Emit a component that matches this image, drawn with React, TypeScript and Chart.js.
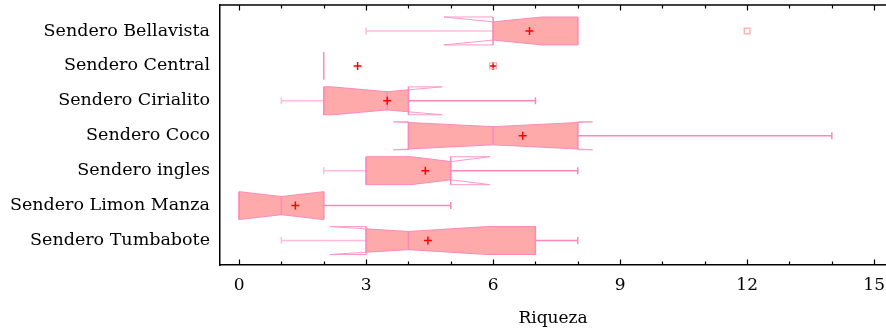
import React, { useEffect, useRef } from "react";
import { Chart, registerables } from "chart.js";

Chart.register(...registerables);

const categories = [
  "Sendero Bellavista",
  "Sendero Central",
  "Sendero Cirialito",
  "Sendero Coco",
  "Sendero ingles",
  "Sendero Limon Manza",
  "Sendero Tumbabote",
];
const whiskerMin = [3, 2, 1, 4, 2, 0, 1];
const q1 = [6, 2, 2, 4, 3, 0, 3];
const median = [6, 2, 3.5, 6, 5, 1, 4];
const q3 = [8, 2, 4, 8, 5, 2, 7];
const whiskerMax = [8, 2, 7, 14, 8, 5, 8];
const notchHalf = [1.16, 0, 1.3, 2.35, 0.93, 1.0, 1.86];
const means = [6.86, 2.8, 3.5, 6.7, 4.4, 1.33, 4.46];
const outlierCat = [0];
const outlierVal = [12];
const farOutlierCat = [1];
const farOutlierVal = [6];
const xTicks = [0, 1, 2, 3, 4, 5, 6, 7, 8, 9, 10, 11, 12, 13, 14, 15];

const FONT = "'DejaVu Serif', serif";
const FILL = "#FFAAAA";
const EDGE = "#FF88BB";
const EXT = "#FF99C8";
const LOW_WHISK = "#FFBBDD";

const boxPlugin = {
  id: "notchedBoxes",
  beforeDatasetsDraw(chart: any) {
    const { ctx, scales, chartArea } = chart;
    const xs = scales.x;
    const ys = scales.y;
    const unit = Math.abs(ys.getPixelForValue(1) - ys.getPixelForValue(0));
    const H = unit * 0.4;
    const h = unit * 0.26;
    ctx.save();
    categories.forEach((_, i) => {
      const cy = ys.getPixelForValue(i);
      const med = median[i];
      const n = notchHalf[i];
      const lo = med - n;
      const hi = med + n;
      const a = q1[i];
      const b = q3[i];
      const hw = (v: number) => {
        if (n <= 0) return H;
        const d = Math.abs(v - med);
        if (d >= n) return H;
        return h + ((H - h) * d) / n;
      };
      const px = (v: number) => xs.getPixelForValue(v);

      ctx.lineWidth = 1.5;
      if (whiskerMin[i] < a) {
        ctx.strokeStyle = LOW_WHISK;
        ctx.beginPath();
        ctx.moveTo(px(whiskerMin[i]), cy);
        ctx.lineTo(px(a), cy);
        ctx.moveTo(px(whiskerMin[i]), cy - 3.5);
        ctx.lineTo(px(whiskerMin[i]), cy + 3.5);
        ctx.stroke();
      }
      if (whiskerMax[i] > b) {
        ctx.strokeStyle = EDGE;
        ctx.beginPath();
        ctx.moveTo(px(b), cy);
        ctx.lineTo(px(whiskerMax[i]), cy);
        ctx.moveTo(px(whiskerMax[i]), cy - 3.5);
        ctx.lineTo(px(whiskerMax[i]), cy + 3.5);
        ctx.stroke();
      }

      if (b > a) {
        const pts: number[] = [a];
        if (n > 0 && lo > a && lo < med) pts.push(lo);
        if (med > a && med < b) pts.push(med);
        if (n > 0 && hi > med && hi < b) pts.push(hi);
        pts.push(b);
        ctx.beginPath();
        pts.forEach((v, k) => {
          if (k === 0) ctx.moveTo(px(v), cy - hw(v));
          else ctx.lineTo(px(v), cy - hw(v));
        });
        for (let k = pts.length - 1; k >= 0; k--) {
          ctx.lineTo(px(pts[k]), cy + hw(pts[k]));
        }
        ctx.closePath();
        ctx.fillStyle = FILL;
        ctx.fill();
        ctx.strokeStyle = EDGE;
        ctx.lineWidth = 1;
        ctx.stroke();
      }

      ctx.strokeStyle = EXT;
      ctx.lineWidth = 1;
      if (n > 0 && lo < a) {
        ctx.beginPath();
        ctx.moveTo(px(lo), cy - H);
        ctx.lineTo(px(a), cy - H);
        ctx.moveTo(px(lo), cy + H);
        ctx.lineTo(px(a), cy + H);
        ctx.moveTo(px(lo), cy - H);
        ctx.lineTo(px(a), cy - hw(a));
        ctx.moveTo(px(lo), cy + H);
        ctx.lineTo(px(a), cy + hw(a));
        ctx.stroke();
      }
      if (n > 0 && hi > b) {
        ctx.beginPath();
        ctx.moveTo(px(b), cy - H);
        ctx.lineTo(px(hi), cy - H);
        ctx.moveTo(px(b), cy + H);
        ctx.lineTo(px(hi), cy + H);
        ctx.moveTo(px(hi), cy - H);
        ctx.lineTo(px(b), cy - hw(b));
        ctx.moveTo(px(hi), cy + H);
        ctx.lineTo(px(b), cy + hw(b));
        ctx.stroke();
      }

      ctx.strokeStyle = EDGE;
      ctx.lineWidth = 1.5;
      ctx.beginPath();
      ctx.moveTo(px(a), cy - H);
      ctx.lineTo(px(a), cy + H);
      ctx.moveTo(px(b), cy - H);
      ctx.lineTo(px(b), cy + H);
      ctx.moveTo(px(med), cy - hw(med));
      ctx.lineTo(px(med), cy + hw(med));
      ctx.stroke();
    });

    ctx.strokeStyle = "#000";
    ctx.lineWidth = 1.5;
    ctx.beginPath();
    ctx.moveTo(chartArea.left, chartArea.top);
    ctx.lineTo(chartArea.right + 2, chartArea.top);
    ctx.stroke();
    ctx.lineWidth = 1.2;
    ctx.beginPath();
    xTicks.forEach((v) => {
      const x = Math.round(xs.getPixelForValue(v)) + 0.5;
      const len = v % 3 === 0 ? 5.5 : 3.5;
      ctx.moveTo(x, chartArea.top);
      ctx.lineTo(x, chartArea.top + len);
      ctx.moveTo(x, chartArea.bottom);
      ctx.lineTo(x, chartArea.bottom - len);
    });
    ctx.stroke();
    ctx.restore();
  },
  afterDatasetsDraw(chart: any) {
    const { ctx, scales } = chart;
    const xs = scales.x;
    const ys = scales.y;
    ctx.save();
    farOutlierCat.forEach((c, k) => {
      const x = xs.getPixelForValue(farOutlierVal[k]);
      const y = ys.getPixelForValue(c);
      ctx.strokeStyle = "#FFAAAA";
      ctx.lineWidth = 1;
      ctx.strokeRect(x - 3.5, y - 3, 7, 6);
    });
    ctx.restore();
  },
};

export default function App() {
  const ref = useRef<HTMLCanvasElement | null>(null);
  useEffect(() => {
    if (!ref.current) return;
    const chart = new Chart(ref.current, {
      type: "scatter",
      data: {
        datasets: [
          {
            label: "outliers",
            data: outlierCat.map((c, k) => ({ x: outlierVal[k], y: c })),
            pointStyle: "rect",
            pointRadius: 4,
            borderColor: "#FFB4B4",
            backgroundColor: "#ffffff",
            borderWidth: 1.5,
          },
          {
            label: "far outliers",
            data: farOutlierCat.map((c, k) => ({ x: farOutlierVal[k], y: c })),
            pointStyle: "cross",
            pointRadius: 4,
            borderColor: "#FF0000",
            borderWidth: 1.5,
          },
          {
            label: "means",
            data: means.map((m, i) => ({ x: m, y: i })),
            pointStyle: "cross",
            pointRadius: 4,
            borderColor: "#FF0000",
            borderWidth: 1.5,
          },
        ],
      },
      options: {
        animation: false,
        responsive: false,
        maintainAspectRatio: false,
        layout: { autoPadding: false, padding: { top: 5, left: 0, right: 0, bottom: 0 } },
        plugins: { legend: { display: false }, tooltip: { enabled: false } },
        scales: {
          x: {
            type: "linear",
            min: -0.45,
            max: 15.28,
            afterBuildTicks: (s: any) => {
              s.ticks = xTicks.map((v) => ({ value: v }));
            },
            afterFit: (s: any) => {
              s.height = 64;
              s.paddingLeft = 0;
              s.paddingRight = 0;
            },
            grid: { display: false, drawTicks: false },
            border: { display: true, color: "#000", width: 1.5 },
            ticks: {
              autoSkip: false,
              maxRotation: 0,
              padding: 10,
              color: "#000",
              font: { family: FONT, size: 17 },
              callback: (v: any) => (Number(v) % 3 === 0 ? String(v) : ""),
            },
            title: {
              display: true,
              text: "Riqueza",
              color: "#000",
              font: { family: FONT, size: 17 },
              padding: { top: 0, bottom: 0 },
            },
          },
          y: {
            type: "linear",
            min: -0.743,
            max: 6.7,
            reverse: true,
            afterBuildTicks: (s: any) => {
              s.ticks = categories.map((_, i) => ({ value: i }));
            },
            afterFit: (s: any) => {
              s.width = 220;
              s.paddingTop = 0;
              s.paddingBottom = 0;
            },
            grid: { display: false, drawTicks: false },
            border: { display: true, color: "#000", width: 1.5 },
            ticks: {
              autoSkip: false,
              padding: 10,
              color: "#000",
              font: { family: FONT, size: 17.5 },
              callback: (v: any) => categories[Number(v)] ?? "",
            },
          },
        },
      },
      plugins: [boxPlugin],
    } as any);
    return () => chart.destroy();
  }, []);
  return (
    <div style={{ position: "fixed", left: 0, top: 0, width: 886, height: 329, background: "#fff" }}>
      <canvas ref={ref} width={886} height={329} style={{ display: "block", width: 886, height: 329 }} />
    </div>
  );
}
